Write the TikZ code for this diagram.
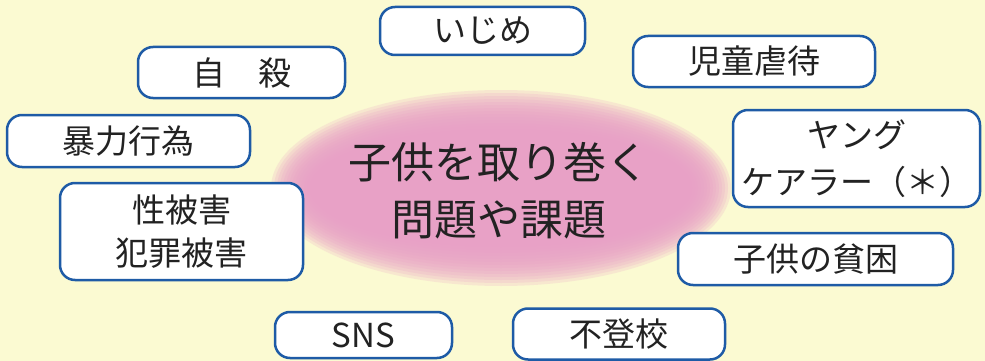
\documentclass[tikz,border=0pt]{standalone}
\usepackage{fontspec}
\setmainfont{Noto Sans CJK JP}
\definecolor{bgc}{HTML}{FBFAD2}
\definecolor{pinkc}{HTML}{E89FC6}
\definecolor{edgec}{HTML}{1E5BA6}
\definecolor{inkc}{HTML}{222222}
\tikzset{
  issue/.style={draw=edgec, line width=2.5pt, fill=white, rounded corners=15pt,
    text=inkc, font=\fontsize{33}{44}\selectfont, align=center, inner sep=0pt},
  hub/.style={text=inkc, font=\fontsize{43}{57}\selectfont, align=center, inner sep=0pt}
}
\begin{document}
\begin{tikzpicture}[x=1pt,y=-1pt]
\fill[bgc] (0,0) rectangle (985,361);
\useasboundingbox (0,0) rectangle (985,361);
% soft pink ellipse
\foreach \i in {0,...,13}{
  \fill[pinkc, opacity=0.2] (501,188) ellipse [x radius={230-3*\i}, y radius={98-3*\i}];
}
\node[hub] (hub) at (499,191) {子供を取り巻く\\問題や課題};
\node[issue, minimum width=205pt, minimum height=48pt] (ijime) at (482.5,31) {いじめ};
\node[issue, minimum width=207pt, minimum height=51pt] (jisatsu) at (241.5,72.5) {自　殺};
\node[issue, minimum width=243pt, minimum height=52pt] (bouryoku) at (128.5,141) {暴力行為};
\node[issue, minimum width=242pt, minimum height=51pt] (gyakutai) at (754,61.5) {児童虐待};
\node[issue, minimum width=247pt, minimum height=97pt, font=\fontsize{33}{47}\selectfont] (young) at (856.5,158.5) {ヤング\\ケアラー（＊）};
\node[issue, minimum width=243pt, minimum height=97pt, font=\fontsize{33}{43}\selectfont] (higai) at (181.5,231.5) {性被害\\犯罪被害};
\node[issue, minimum width=275pt, minimum height=52pt] (hinkon) at (815.5,259) {子供の貧困};
\node[issue, minimum width=177pt, minimum height=46pt] (sns) at (363.5,335) {SNS};
\node[issue, minimum width=212pt, minimum height=51pt] (futoukou) at (619,334) {不登校};
\end{tikzpicture}
\end{document}
